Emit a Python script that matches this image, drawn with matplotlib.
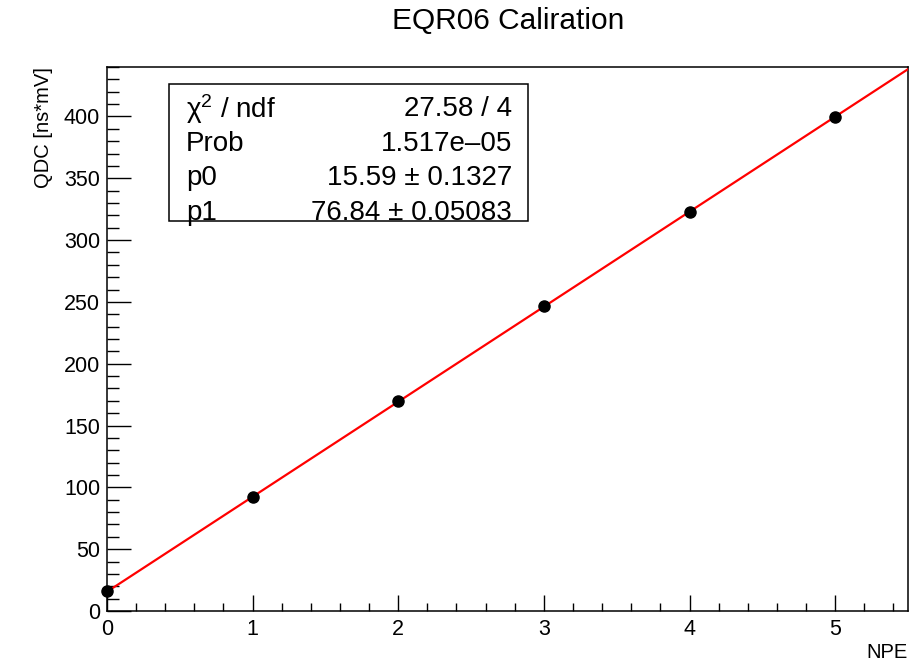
import numpy as np
import matplotlib
matplotlib.use("Agg")
import matplotlib.pyplot as plt
from matplotlib.patches import Rectangle
from matplotlib.ticker import MultipleLocator

plt.rcParams['font.family'] = ['Liberation Sans', 'DejaVu Sans']
plt.rcParams['mathtext.fontset'] = 'custom'
plt.rcParams['mathtext.rm'] = 'Liberation Sans'
plt.rcParams['mathtext.it'] = 'Liberation Sans:italic'

npe = [0, 1, 2, 3, 4, 5]
qdc = [16.5, 92.5, 169.5, 246.5, 323.0, 399.5]

# fit result shown in the stats box
p0, p0_err = 15.59, 0.1327
p1, p1_err = 76.84, 0.05083
chi2, ndf = 27.58, 4
prob = "1.517e\u201305"

fig = plt.figure(figsize=(9.15, 6.62), dpi=100)
ax = fig.add_axes([0.1169, 0.077, 0.8754, 0.8218])

xf = np.linspace(0, 5.5, 50)
ax.plot(xf, p0 + p1 * xf, color="red", lw=1.6, zorder=3)
ax.plot(npe, qdc, "o", color="black", ms=8, zorder=4, clip_on=False)

ax.set_xlim(0, 5.5)
ax.set_ylim(0, 440)
ax.xaxis.set_major_locator(MultipleLocator(1))
ax.xaxis.set_minor_locator(MultipleLocator(0.2))
ax.yaxis.set_major_locator(MultipleLocator(50))
ax.yaxis.set_minor_locator(MultipleLocator(10))
ax.tick_params(axis="both", which="both", direction="in", labelsize=15.5,
               color="black", width=1.0)
ax.tick_params(axis="x", which="major", length=11.5, pad=6)
ax.tick_params(axis="x", which="minor", length=5.8)
ax.tick_params(axis="y", which="major", length=17.5, pad=5)
ax.tick_params(axis="y", which="minor", length=8.6)
for s in ax.spines.values():
    s.set_linewidth(1.1)

ax.set_xlabel("NPE", fontsize=14.5, loc="right", labelpad=2)
ax.set_ylabel("QDC [ns*mV]", fontsize=14.5, loc="top", labelpad=8)
fig.suptitle("EQR06 Caliration", fontsize=21.5, x=0.555, y=0.99)

# stats box
bx0, bx1, by0, by1 = 0.0774, 0.5256, 0.7169, 0.9688
ax.add_patch(Rectangle((bx0, by0), bx1 - bx0, by1 - by0, transform=ax.transAxes,
                       facecolor="white", edgecolor="black", lw=1.1, zorder=5))
labels = ["\u03c7$^2$ / ndf", "Prob", "p0", "p1"]
values = [f"{chi2:.2f} / {ndf}", prob, f"{p0:.2f} \u00b1 {p0_err:.4f}",
          f"{p1:.2f} \u00b1 {p1_err:.5f}"]
rows_y = [0.9222, 0.8578, 0.7953, 0.7309]
for lab, val, ry in zip(labels, values, rows_y):
    ax.text(0.0986, ry, lab, transform=ax.transAxes, fontsize=20, ha="left",
            va="center", zorder=6)
    ax.text(0.5056, ry, val, transform=ax.transAxes, fontsize=20, ha="right",
            va="center", zorder=6)

fig.savefig("out.png", dpi=100)
